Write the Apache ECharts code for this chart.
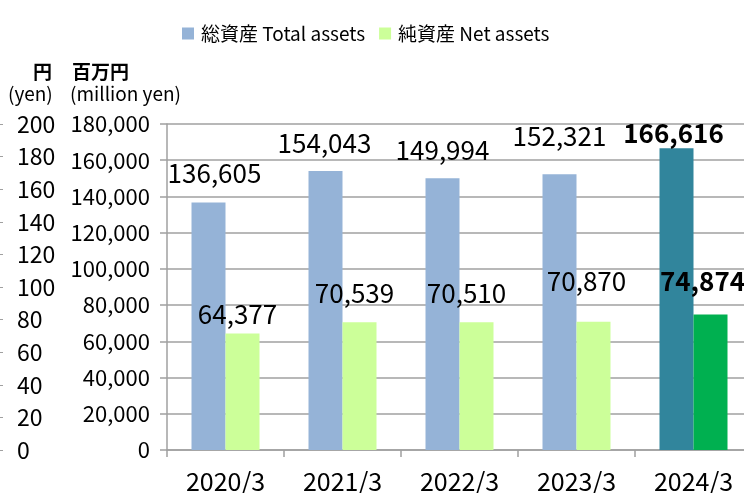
<!DOCTYPE html>
<html><head><meta charset="utf-8">
<script src="https://cdn.jsdelivr.net/npm/echarts@6/dist/echarts.min.js"></script>
<style>html,body{margin:0;padding:0;background:#fff}#c{width:744px;height:493px}</style>
</head><body><div id="c"></div>
<script>
const categories = ['2020/3', '2021/3', '2022/3', '2023/3', '2024/3'];
const totalAssets = [136605, 154043, 149994, 152321, 166616];
const netAssets = [64377, 70539, 70510, 70870, 74874];
const yenTicks = [0, 20, 40, 60, 80, 100, 120, 140, 160, 180, 200];
const seriesNames = ['総資産 Total assets', '純資産 Net assets'];

const FONT = '"Noto Sans CJK JP", "Noto Sans", sans-serif';
// label styling offsets (layout, not data)
const totalLabelOffset = [[6, -16], [-1, -15], [0, -15], [0, -25], [-3, -2]];
const netLabelOffset = [[-5, -6], [-5, -16], [-10, -16], [-7, -28], [-8, -20]];
const lastIdx = categories.length - 1;

function fmt(v) { return v.toLocaleString('en-US'); }

function buildData(values, offsets, normalColor, highlightColor) {
  return values.map((v, i) => ({
    value: v,
    itemStyle: { color: i === lastIdx ? highlightColor : normalColor },
    label: {
      offset: offsets[i],
      fontWeight: i === lastIdx ? 'bold' : 'normal'
    }
  }));
}

const labelBase = {
  show: true, position: 'top', distance: 0,
  fontFamily: FONT, fontSize: 26, lineHeight: 26, color: '#000',
  formatter: p => fmt(p.value)
};

const chart = echarts.init(document.getElementById('c'), null, { renderer: 'canvas' });
chart.setOption({
  animation: false,
  textStyle: { fontFamily: FONT },
  legend: {
    left: 177, top: 19,
    itemWidth: 12, itemHeight: 12, itemGap: 14,
    icon: 'rect',
    textStyle: { fontFamily: FONT, fontSize: 19, color: '#000', padding: [0, 0, 0, 2] },
    data: seriesNames
  },
  grid: { left: 167, right: -8, top: 124, bottom: 43, containLabel: false, outerBoundsMode: 'none' },
  xAxis: {
    type: 'category', data: categories,
    axisLine: { lineStyle: { color: '#a0a0a0', width: 1.5 } },
    axisTick: { show: true, length: 7, lineStyle: { color: '#a0a0a0', width: 1.5 } },
    axisLabel: { fontFamily: FONT, fontSize: 25, color: '#000', margin: 19 }
  },
  yAxis: [
    {
      type: 'value', min: 0, max: 180000, interval: 20000,
      axisLine: { show: true, lineStyle: { color: '#a0a0a0', width: 1.5 } },
      axisTick: { show: true, length: 7, lineStyle: { color: '#a0a0a0', width: 1.5 } },
      splitLine: { show: true, lineStyle: { color: '#a0a0a0', width: 1.5 } },
      axisLabel: { fontFamily: FONT, fontSize: 22, color: '#000', margin: 17, formatter: v => fmt(v) }
    },
    {
      type: 'value', position: 'left', offset: 164,
      min: yenTicks[0], max: yenTicks[yenTicks.length - 1], interval: yenTicks[1] - yenTicks[0],
      axisLine: { show: false },
      axisTick: { show: true, length: 3, lineStyle: { color: '#a0a0a0', width: 1 } },
      splitLine: { show: false },
      axisLabel: { inside: true, fontFamily: FONT, fontSize: 23, color: '#000', margin: 14, align: 'left' }
    }
  ],
  graphic: [
    { type: 'text', left: 33, top: 62, style: { text: '円', font: 'bold 19px ' + FONT, fill: '#000' } },
    { type: 'text', left: 8, top: 84, style: { text: '(yen)', font: '19px ' + FONT, fill: '#000' } },
    { type: 'text', left: 72, top: 62, style: { text: '百万円', font: 'bold 19px ' + FONT, fill: '#000' } },
    { type: 'text', left: 70, top: 84, style: { text: '(million yen)', font: '19px ' + FONT, fill: '#000' } }
  ],
  series: [
    {
      name: seriesNames[0], type: 'bar', barWidth: 34, barGap: '0%',
      itemStyle: { color: '#95b3d7' },
      label: labelBase,
      data: buildData(totalAssets, totalLabelOffset, '#95b3d7', '#31859c')
    },
    {
      name: seriesNames[1], type: 'bar', barWidth: 34, barGap: '0%',
      itemStyle: { color: '#ccff99' },
      label: labelBase,
      data: buildData(netAssets, netLabelOffset, '#ccff99', '#00b050')
    }
  ]
});
</script></body></html>
